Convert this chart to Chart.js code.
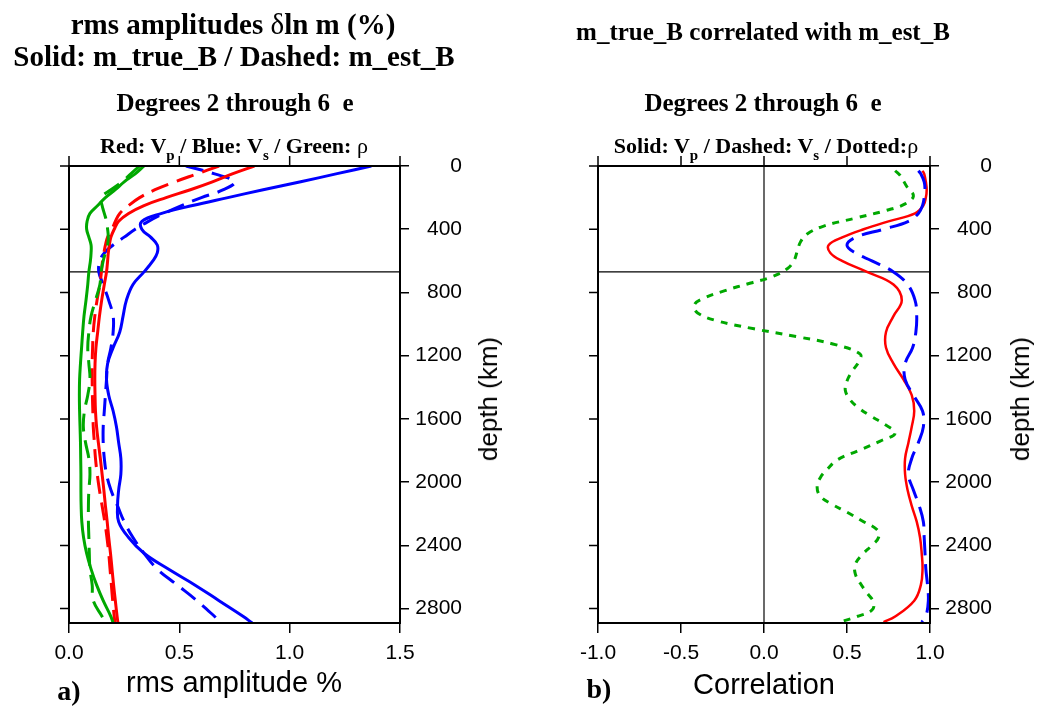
<!DOCTYPE html>
<html><head><meta charset="utf-8">
<script src="https://cdn.jsdelivr.net/npm/chart.js@4.4.1/dist/chart.umd.min.js"></script>
<style>
html,body{margin:0;padding:0;background:#fff;}
body{width:1039px;height:708px;position:relative;overflow:hidden;}
.box{position:absolute;top:0;height:708px;}
.t{position:absolute;transform:translate(-50%,-50%);white-space:pre;line-height:1;color:#000;}
.serif{font-family:"Liberation Serif","Times New Roman",serif;font-weight:bold;}
.sans{font-family:"Liberation Sans",Arial,sans-serif;}
.n{font-weight:normal;}
sub{font-size:15px;vertical-align:baseline;position:relative;top:7px;}
</style></head>
<body>
<div class="box" style="left:0;width:520px"><canvas id="cA"></canvas></div>
<div class="box" style="left:520px;width:519px"><canvas id="cB"></canvas></div>

<div class="t serif" style="left:233px;top:24px;font-size:29px">rms amplitudes <span class="n">δ</span>ln m (%)</div>
<div class="t serif" style="left:234px;top:56px;font-size:29px">Solid: m_true_B / Dashed: m_est_B</div>
<div class="t serif" style="left:763px;top:31px;font-size:25px">m_true_B correlated with m_est_B</div>
<div class="t serif" style="left:235px;top:102px;font-size:25px">Degrees 2 through 6  e</div>
<div class="t serif" style="left:763px;top:102px;font-size:25px">Degrees 2 through 6  e</div>
<div class="t serif" style="left:234px;top:146px;font-size:22px">Red: V<sub>p</sub> / Blue: V<sub>s</sub> / Green: <span class="n">ρ</span></div>
<div class="t serif" style="left:766px;top:146px;font-size:22px">Solid: V<sub>p</sub> / Dashed: V<sub>s</sub> / Dotted:<span class="n">ρ</span></div>
<div class="t sans" style="left:234px;top:682px;font-size:29px">rms amplitude %</div>
<div class="t sans" style="left:764px;top:684px;font-size:29px">Correlation</div>
<div class="t serif" style="left:69px;top:691px;font-size:28px">a)</div>
<div class="t serif" style="left:599px;top:689px;font-size:28px">b)</div>
<div class="t sans" style="left:488px;top:399px;font-size:26px;transform:translate(-50%,-50%) rotate(-90deg)">depth (km)</div>
<div class="t sans" style="left:1020px;top:399px;font-size:26px;transform:translate(-50%,-50%) rotate(-90deg)">depth (km)</div>

<script>
// ---- data ----
const ampDepths = [0,50,100,150,200,250,300,350,400,450,500,550,600,670,750,850,950,1050,1150,1250,1350,1450,1550,1650,1750,1850,1950,2050,2150,2250,2350,2450,2550,2650,2750,2850,2891];
const vsTrue  = [1.37,1.21,1.05,0.88,0.72,0.56,0.42,0.33,0.33,0.37,0.40,0.40,0.38,0.34,0.29,0.26,0.245,0.23,0.20,0.175,0.17,0.18,0.20,0.215,0.225,0.235,0.235,0.225,0.22,0.225,0.27,0.34,0.45,0.57,0.68,0.79,0.83];
const vsEst   = [0.53,0.66,0.75,0.70,0.60,0.51,0.43,0.36,0.30,0.25,0.20,0.16,0.14,0.135,0.155,0.18,0.20,0.20,0.19,0.175,0.17,0.165,0.16,0.155,0.155,0.16,0.17,0.19,0.22,0.25,0.29,0.34,0.40,0.49,0.58,0.66,0.69];
const vpTrue  = [0.84,0.74,0.65,0.55,0.44,0.34,0.27,0.225,0.205,0.19,0.183,0.178,0.175,0.17,0.16,0.148,0.138,0.13,0.122,0.118,0.117,0.118,0.12,0.125,0.133,0.142,0.15,0.158,0.165,0.173,0.18,0.188,0.195,0.202,0.21,0.218,0.222];
const vpEst   = [0.68,0.58,0.48,0.39,0.32,0.27,0.23,0.21,0.195,0.175,0.165,0.158,0.152,0.147,0.14,0.127,0.117,0.11,0.107,0.105,0.105,0.106,0.108,0.11,0.115,0.12,0.128,0.138,0.15,0.162,0.172,0.18,0.186,0.192,0.198,0.205,0.208];
const rhoTrue = [0.34,0.30,0.25,0.21,0.165,0.13,0.095,0.082,0.08,0.09,0.10,0.10,0.097,0.09,0.085,0.077,0.068,0.062,0.057,0.052,0.048,0.047,0.048,0.05,0.052,0.053,0.054,0.054,0.055,0.058,0.066,0.08,0.10,0.125,0.155,0.19,0.20];
const rhoEst  = [0.32,0.28,0.24,0.19,0.145,0.15,0.16,0.17,0.175,0.178,0.175,0.165,0.155,0.145,0.14,0.12,0.10,0.09,0.085,0.09,0.095,0.085,0.07,0.065,0.075,0.09,0.095,0.09,0.088,0.088,0.09,0.092,0.095,0.105,0.11,0.15,0.165];

const corrDepths = [30,50,100,150,200,250,300,350,400,450,500,550,600,670,750,850,950,1050,1150,1250,1350,1450,1550,1650,1750,1850,1950,2050,2150,2250,2350,2450,2550,2650,2750,2850,2885];
const vpCorr = [0.955,0.965,0.975,0.98,0.975,0.96,0.91,0.75,0.60,0.475,0.39,0.40,0.47,0.62,0.78,0.83,0.78,0.735,0.735,0.78,0.84,0.89,0.905,0.89,0.87,0.85,0.85,0.865,0.89,0.92,0.94,0.95,0.955,0.945,0.905,0.79,0.72];
const vsCorr = [0.93,0.945,0.965,0.97,0.965,0.955,0.93,0.87,0.72,0.555,0.50,0.55,0.65,0.78,0.865,0.91,0.92,0.915,0.895,0.85,0.85,0.90,0.955,0.96,0.93,0.89,0.87,0.90,0.935,0.96,0.965,0.97,0.975,0.985,0.99,0.975,0.95];
const rhoCorrDepths = [30,60,130,190,240,280,330,380,430,480,540,600,650,700,740,790,840,880,930,980,1030,1080,1130,1190,1240,1300,1360,1420,1480,1530,1580,1630,1690,1740,1800,1860,1920,1970,2030,2090,2140,2190,2250,2300,2350,2400,2460,2520,2580,2640,2700,2760,2810,2850,2885];
const rhoCorr = [0.79,0.82,0.86,0.90,0.85,0.74,0.55,0.36,0.26,0.22,0.20,0.18,0.14,0.05,-0.08,-0.24,-0.37,-0.42,-0.40,-0.28,-0.06,0.20,0.43,0.58,0.57,0.53,0.50,0.49,0.52,0.57,0.64,0.72,0.79,0.70,0.57,0.44,0.38,0.34,0.32,0.34,0.41,0.50,0.60,0.68,0.69,0.65,0.59,0.55,0.55,0.58,0.62,0.66,0.65,0.56,0.46];

const ampTicks = [0, 0.5, 1.0, 1.5];
const corrTicks = [-1, -0.5, 0, 0.5, 1];
const depthTicks = [0, 400, 800, 1200, 1600, 2000, 2400, 2800];
const CMB_DEPTH = 2891;
const D670 = 670;

// ---- drawing ----
const RED = '#ff0000', BLUE = '#0000ff', GREEN = '#00a800';
function pts(depths, vals){ return vals.map((v,i)=>({x:v, y:depths[i]})); }

const framePlugin = {
  id: 'frame',
  beforeDatasetsDraw(chart, args, opts){
    const {ctx, chartArea:a, scales:{x,y}} = chart;
    ctx.save();
    ctx.beginPath(); ctx.rect(a.left, a.top, a.right-a.left, a.bottom-a.top); ctx.clip();
    ctx.strokeStyle = '#000'; ctx.lineWidth = 1.2;
    const yy = y.getPixelForValue(D670);
    ctx.beginPath(); ctx.moveTo(a.left, yy); ctx.lineTo(a.right, yy); ctx.stroke();
    if (opts.zeroLine){
      const xx = x.getPixelForValue(0);
      ctx.strokeStyle = '#444'; ctx.lineWidth = 1.6;
      ctx.beginPath(); ctx.moveTo(xx, a.top); ctx.lineTo(xx, a.bottom); ctx.stroke();
    }
    ctx.restore();
  },
  afterDatasetsDraw(chart){
    const {ctx, chartArea:a, scales:{x,y}} = chart;
    ctx.save();
    ctx.strokeStyle = '#000'; ctx.lineWidth = 2;
    ctx.strokeRect(a.left, a.top, a.right-a.left, a.bottom-a.top);
    ctx.lineWidth = 1.5;
    ctx.beginPath();
    x.ticks.forEach(t=>{ const px = x.getPixelForValue(t.value); ctx.moveTo(px, a.top); ctx.lineTo(px, a.top-10); });
    y.ticks.forEach(t=>{ const py = y.getPixelForValue(t.value); ctx.moveTo(a.left, py); ctx.lineTo(a.left-9, py); });
    ctx.stroke();
    ctx.restore();
  }
};

const tickFont = {family:'"Liberation Sans", Arial, sans-serif', size:21};

function makeChart(id, datasets, xMin, xMax, xTicks, padLeft, padRight, yWidth, zero){
  return new Chart(document.getElementById(id), {
    type: 'scatter',
    data: {datasets},
    options: {
      animation: false, responsive: true, maintainAspectRatio: false,
      layout: {padding: {left: padLeft, top: 166, right: padRight, bottom: 0}},
      plugins: {legend: {display: false}, tooltip: {enabled: false}, frame: {zeroLine: zero}},
      elements: {point: {radius: 0, hoverRadius: 0}, line: {tension: 0.4, borderCapStyle: 'butt', borderJoinStyle: 'round', fill: false}},
      scales: {
        x: {
          type: 'linear', position: 'bottom', min: xMin, max: xMax,
          afterBuildTicks: s => { s.ticks = xTicks.map(v => ({value: v})); },
          afterFit: s => { s.height = 85; },
          grid: {display: true, drawOnChartArea: false, drawTicks: true, tickLength: 10, color: '#000', lineWidth: 1.5},
          border: {display: false},
          ticks: {color: '#000', padding: 8, maxRotation: 0, autoSkip: false, font: tickFont, callback: v => Number(v).toFixed(1)}
        },
        y: {
          type: 'linear', position: 'right', reverse: true, min: 0, max: CMB_DEPTH,
          afterBuildTicks: s => { s.ticks = depthTicks.map(v => ({value: v})); },
          afterFit: s => { s.width = yWidth; },
          grid: {display: true, drawOnChartArea: false, drawTicks: true, tickLength: 9, color: '#000', lineWidth: 1.5},
          border: {display: false},
          ticks: {color: '#000', padding: 6, crossAlign: 'far', autoSkip: false, font: tickFont, callback: v => String(v)}
        }
      }
    },
    plugins: [framePlugin]
  });
}

const dashL = [18, 9];
makeChart('cA', [
  {data: pts(ampDepths, rhoEst),  borderColor: GREEN, borderWidth: 3, borderDash: dashL, showLine: true},
  {data: pts(ampDepths, rhoTrue), borderColor: GREEN, borderWidth: 3, showLine: true},
  {data: pts(ampDepths, vpEst),   borderColor: RED,   borderWidth: 3, borderDash: dashL, showLine: true},
  {data: pts(ampDepths, vpTrue),  borderColor: RED,   borderWidth: 3, showLine: true},
  {data: pts(ampDepths, vsEst),   borderColor: BLUE,  borderWidth: 3, borderDash: dashL, showLine: true},
  {data: pts(ampDepths, vsTrue),  borderColor: BLUE,  borderWidth: 3, showLine: true}
], 0, 1.5, ampTicks, 69, 58, 62, false);

makeChart('cB', [
  {data: pts(rhoCorrDepths, rhoCorr), borderColor: GREEN, borderWidth: 3, borderDash: [7, 7], showLine: true},
  {data: pts(corrDepths, vsCorr), borderColor: BLUE, borderWidth: 3, borderDash: [20, 9], showLine: true},
  {data: pts(corrDepths, vpCorr), borderColor: RED, borderWidth: 2.5, showLine: true}
], -1, 1, corrTicks, 78, 47, 62, true);
</script>
</body></html>
